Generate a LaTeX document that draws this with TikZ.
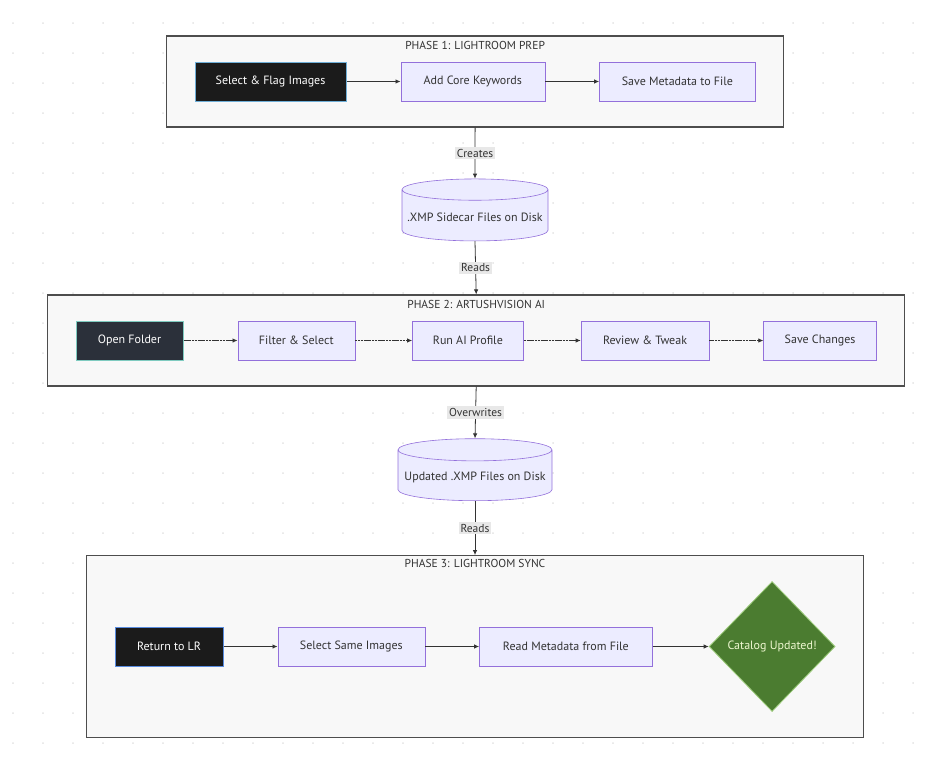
\documentclass[tikz,border=0pt]{standalone}
\usepackage{fontspec}
\setmainfont{PT Sans}
\usetikzlibrary{arrows.meta,positioning,calc,fit,backgrounds,shapes.geometric}
\definecolor{Ink}{HTML}{333333}
\definecolor{Frame}{HTML}{4D4D4D}
\definecolor{Panel}{HTML}{F8F8F8}
\definecolor{Lilac}{HTML}{ECECFF}
\definecolor{Violet}{HTML}{9370DB}
\definecolor{Coal}{HTML}{1B1B1B}
\definecolor{Slate}{HTML}{2B303A}
\definecolor{Sky}{HTML}{6FAFD8}
\definecolor{Aqua}{HTML}{7FCBC0}
\definecolor{Moss}{HTML}{4B7C30}
\definecolor{Leaf}{HTML}{9CCB7A}
\definecolor{Cream}{HTML}{EEF7D0}
\definecolor{Tag}{HTML}{E8E8E8}
\definecolor{Dot}{HTML}{E2E2E2}
\tikzset{
  arr/.style={-{Latex[length=5pt,width=4.5pt]},line width=0.8pt,draw=Ink},
  dotarr/.style={arr,dash pattern=on 2.2pt off 0.6pt},
  stepbox/.style={draw=Violet,fill=Lilac,line width=0.6pt,minimum height=39pt,font=\fontsize{12}{14}\selectfont,text=Ink},
  darkbox/.style={stepbox,fill=Coal,draw=Sky,text=white,line width=1pt},
  store/.style={cylinder,shape border rotate=90,aspect=0.15,draw=Violet,fill=Lilac,line width=0.6pt,font=\fontsize{12}{14}\selectfont,text=Ink},
  goal/.style={diamond,draw=Leaf,fill=Moss,line width=0.8pt,inner sep=0pt,text=Cream,font=\fontsize{12}{14}\selectfont},
  phase/.style={draw=Frame,fill=Panel,line width=1.1pt,inner xsep=28pt,inner ysep=25.5pt},
  phasetitle/.style={font=\fontsize{11.5}{13}\selectfont,text=Ink,anchor=north},
  tag/.style={fill=Tag,font=\fontsize{11.5}{13}\selectfont,inner sep=2pt,text=Ink}
}
\begin{document}
\begin{tikzpicture}[x=1pt,y=-1pt]
  \useasboundingbox (0,0) rectangle (933,763);
  % dotted backdrop
  \begin{scope}[on background layer]
    \foreach \i in {0,...,30}
      \foreach \j in {0,...,24}
        \fill[Dot] (13+30*\i,23+30*\j) circle (1pt);
  \end{scope}

  % phase 1
  \node[darkbox,minimum width=151pt] (flag) at (270.5,81.5) {Select \& Flag Images};
  \node[stepbox,minimum width=144pt,right=54pt of flag] (keys) {Add Core Keywords};
  \node[stepbox,minimum width=156pt,right=54pt of keys] (savemeta) {Save Metadata to File};
  \draw[arr] (flag)--(keys); \draw[arr] (keys)--(savemeta);
  \begin{scope}[on background layer]
    \node[phase,fit=(flag)(savemeta)] (prep) {};
  \end{scope}
  \node[phasetitle] at ($(prep.north)+(0,2)$) {PHASE 1: LIGHTROOM PREP};

  \node[store,minimum width=146pt,minimum height=62pt] (xmp) at (475,217) {.XMP Sidecar Files on Disk};
  \draw[arr] (prep.south) -- node[tag] {Creates} (xmp.north);

  % phase 2
  \node[darkbox,fill=Slate,draw=Aqua,minimum width=107pt] (open) at (129.5,340.5) {Open Folder};
  \node[stepbox,minimum width=117pt,right=54pt of open] (filter) {Filter \& Select};
  \node[stepbox,minimum width=111pt,right=57pt of filter] (profile) {Run AI Profile};
  \node[stepbox,minimum width=128pt,right=57pt of profile] (review) {Review \& Tweak};
  \node[stepbox,minimum width=113pt,right=54pt of review] (savech) {Save Changes};
  \draw[dotarr] (open)--(filter); \draw[dotarr] (filter)--(profile);
  \draw[dotarr] (profile)--(review); \draw[dotarr] (review)--(savech);
  \begin{scope}[on background layer]
    \node[phase,fit=(open)(savech)] (artush) {};
  \end{scope}
  \node[phasetitle] at ($(artush.north)+(0,2)$) {PHASE 2: ARTUSHVISION AI};
  \draw[arr] (xmp.south) -- node[tag] {Reads} (artush.north);

  \node[store,minimum width=154pt,minimum height=62pt] (newxmp) at (475,477) {Updated .XMP Files on Disk};
  \draw[arr] (artush.south) -- node[tag] {Overwrites} (newxmp.north);

  % phase 3
  \node[darkbox,draw=Sky!80!blue,minimum width=108pt] (back) at (169,646.5) {Return to LR};
  \node[stepbox,minimum width=147pt,right=54pt of back] (same) {Select Same Images};
  \node[stepbox,minimum width=173pt,right=54pt of same] (readmeta) {Read Metadata from File};
  \node[goal,minimum width=126pt,minimum height=130pt,right=56pt of readmeta] (done) {Catalog Updated!};
  \draw[arr] (back)--(same); \draw[arr] (same)--(readmeta); \draw[arr] (readmeta)--(done);
  \begin{scope}[on background layer]
    \node[phase,fit=(back)(done)] (sync) {};
  \end{scope}
  \node[phasetitle] at ($(sync.north)+(0,1)$) {PHASE 3: LIGHTROOM SYNC};
  \draw[arr] (newxmp.south) -- node[tag] {Reads} (sync.north);
\end{tikzpicture}
\end{document}
